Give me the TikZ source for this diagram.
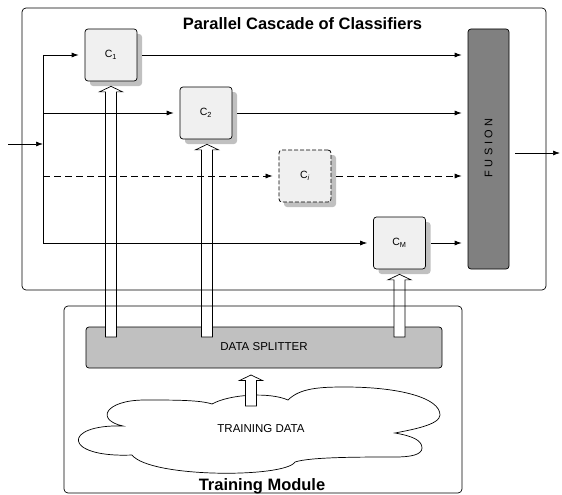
\documentclass[tikz,border=0pt]{standalone}
\usepackage{fontspec}
\setmainfont{Liberation Sans}
\usetikzlibrary{shadows,arrows.meta,calc}
\definecolor{boxfill}{HTML}{F0F0F0}
\definecolor{shadowgray}{HTML}{C0C0C0}
\definecolor{fusiongray}{HTML}{808080}
\definecolor{splitgray}{HTML}{C0C0C0}
\newcommand{\spaced}{\hspace{3.6pt}}
\begin{document}
\begin{tikzpicture}[x=1pt,y=-1pt,line width=0.7pt,
  cls/.style={draw, rounded corners=3pt, fill=boxfill, minimum width=52pt, minimum height=52pt,
    inner sep=0pt, font=\fontsize{10.5}{12}\selectfont,
    drop shadow={shadow xshift=5pt,shadow yshift=-5pt,fill=shadowgray,opacity=1,draw=none}},
  arr/.style={-{Latex[length=7pt,width=5pt]}},
  dsh/.style={dash pattern=on 7pt off 4pt},
  hollow/.style={draw, fill=white, line width=0.7pt, to path={
    let \p1=(\tikztostart), \p2=(\tikztotarget) in
    (\x2-5.5pt,\y1) -- (\x2-5.5pt,\y2-5.5pt) -- (\x2-11.5pt,\y2-5.5pt) -- (\x2,\y2)
    -- (\x2+11.5pt,\y2-5.5pt) -- (\x2+5.5pt,\y2-5.5pt) -- (\x2+5.5pt,\y1) -- cycle}},
  title/.style={font=\bfseries\fontsize{16.5}{18}\selectfont, anchor=base, inner sep=0pt},
  lbl/.style={font=\fontsize{11.5}{13}\selectfont, inner sep=0pt}
  ]
\useasboundingbox (0,0) rectangle (562,495);

% training module contents
\node[draw, rounded corners=3pt, fill=splitgray, minimum width=356pt, minimum height=41pt, inner sep=0pt] (split) at (264,347.5) {};
\node[lbl] at (264,346.7) {DATA SPLITTER};

% cloud
\draw (123,426)
  .. controls (95,420) and (105,400) .. (145,400)
  .. controls (175,400) and (200,400) .. (212,404)
  .. controls (230,394) and (270,392) .. (288,400)
  .. controls (300,388) and (320,387) .. (345,387)
  .. controls (400,387) and (440,398) .. (440,415)
  .. controls (440,425) and (410,430) .. (395,433)
  .. controls (412,436) and (422,440) .. (422,448)
  .. controls (422,455) and (410,457) .. (395,457)
  .. controls (360,457) and (310,457) .. (295,462)
  .. controls (285,478) and (150,478) .. (132,455)
  .. controls (62,458) and (62,424) .. (123,426) -- cycle;
\node[lbl] (tdata) at (261,429) {TRAINING DATA};
\coordinate (cl) at (251,406);
\coordinate (clt) at (251,375);

% classifiers
\node[cls] (C1) at (111,55) {C\textsubscript{1}};
\node[cls] (C2) at (206,113) {C\textsubscript{2}};
\node[cls, line width=0.8pt, dash pattern=on 4pt off 2pt] (Ci) at (305,176) {C\textsubscript{\itshape i}};
\node[cls] (CM) at (399.5,243) {C\textsubscript{M}};

% fusion
\node[draw, rounded corners=3pt, fill=fusiongray, minimum width=41pt, minimum height=240pt, inner sep=0pt] (fus) at (488.5,149) {};
\node[rotate=90, font=\fontsize{11}{12}\selectfont, inner sep=0pt] at (488.5,148) {F\spaced U\spaced S\spaced I\spaced O\spaced N};

% hollow arrows
\draw[hollow] (C1.south |- 0,337) to ([yshift=-5pt]C1.south);
\draw[hollow] (207,337) to ([yshift=-5pt]C2.south -| 207,0);
\draw[hollow] (CM.south |- 0,337) to ([yshift=-5pt]CM.south);
\draw[hollow] (cl) to (clt);

% frames
\draw[rounded corners=4pt] (22,8) rectangle (546,290);
\draw[rounded corners=4pt] (64,306) rectangle (462,493);
\node[title] at (302.5,29.7) {Parallel Cascade of Classifiers};
\node[title] at (262,490.6) {Training Module};

% input and trunk
\coordinate (in) at (8,144);
\coordinate (trunk) at (43,144);
\draw[arr] (in) -- (trunk);
\draw (trunk |- C1.west) -- (trunk |- CM.west);
\draw[arr, shorten >=6pt] (trunk |- C1.west) -- (C1.west);
\draw[arr, shorten >=6pt] (trunk |- C2.west) -- (C2.west);
\draw[arr, dsh, shorten >=6pt] (trunk |- Ci.west) -- (Ci.west);
\draw[arr, shorten >=6pt] (trunk |- CM.west) -- (CM.west);

% to fusion
\draw[arr, shorten <=5pt, shorten >=6pt] (C1.east) -- (C1.east -| fus.west);
\draw[arr, shorten <=5pt, shorten >=6pt] (C2.east) -- (C2.east -| fus.west);
\draw[arr, dsh, shorten <=5pt, shorten >=6pt] (Ci.east) -- (Ci.east -| fus.west);
\draw[arr, shorten <=5pt, shorten >=6pt] (CM.east) -- (CM.east -| fus.west);

% output
\coordinate (out) at (560,153);
\draw[arr, shorten <=6pt] (fus.east |- out) -- (out);
\end{tikzpicture}
\end{document}
